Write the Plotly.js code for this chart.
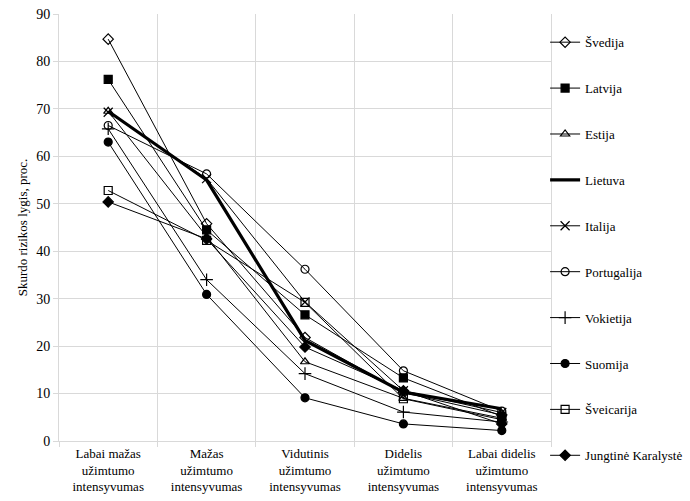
<!DOCTYPE html>
<html><head><meta charset="utf-8">
<script src="https://cdn.plot.ly/plotly-3.0.1.min.js"></script>
<style>body{margin:0;padding:0;background:#fff}#chart{width:690px;height:501px}</style>
</head><body><div id="chart"></div>
<script>
const categories = ["Labai mažas<br>užimtumo<br>intensyvumas","Mažas<br>užimtumo<br>intensyvumas","Vidutinis<br>užimtumo<br>intensyvumas","Didelis<br>užimtumo<br>intensyvumas","Labai didelis<br>užimtumo<br>intensyvumas"];
const yTitle = "Skurdo rizikos lygis, proc.";
const svedija = [84.7, 45.8, 21.8, 10.2, 5.5];
const latvija = [76.2, 44.5, 26.6, 13.3, 5.2];
const estija = [69.5, 43.0, 16.7, 9.0, 4.8];
const lietuva = [69.5, 55.0, 21.2, 10.3, 6.8];
const italija = [69.3, 55.3, 29.3, 10.6, 6.0];
const portugalija = [66.5, 56.3, 36.2, 14.8, 6.3];
const vokietija = [65.8, 34.0, 14.2, 6.1, 4.0];
const suomija = [63.0, 30.9, 9.1, 3.6, 2.2];
const sveicarija = [52.8, 42.3, 29.2, 8.9, 4.5];
const jungtine = [50.4, 42.6, 19.8, 10.6, 3.6];

const series = [
  ["Švedija", svedija, "diamond-open"],
  ["Latvija", latvija, "square"],
  ["Estija", estija, "triangle-up-open"],
  ["Lietuva", lietuva, null],
  ["Italija", italija, "x-thin-open"],
  ["Portugalija", portugalija, "circle-open"],
  ["Vokietija", vokietija, "cross-thin-open"],
  ["Suomija", suomija, "circle"],
  ["Šveicarija", sveicarija, "square-open"],
  ["Jungtinė Karalystė", jungtine, "diamond"]
];
const traces = series.map((s, i) => {
  const t = {
    type: "scatter", x: categories, y: s[1], name: s[0], legendgroup: "g" + i,
    line: {color: "#000", width: s[2] ? 1 : 3.2},
    cliponaxis: false
  };
  if (s[2]) {
    t.mode = "lines+markers";
    t.marker = {symbol: s[2], size: s[2].indexOf("thin") >= 0 ? 9 : 8, color: "#000", line: {color: "#000", width: 1.2}};
  } else {
    t.mode = "lines";
  }
  return t;
});
const FF = "Liberation Serif, serif";
Plotly.newPlot("chart", traces, {
  width: 690, height: 501,
  margin: {l: 59, r: 139, t: 14, b: 60, autoexpand: false},
  paper_bgcolor: "#fff", plot_bgcolor: "#fff",
  font: {family: FF, color: "#000", size: 13},
  showlegend: true,
  legend: {x: 0.988, xanchor: "left", y: 0.969, yanchor: "top", font: {size: 13},
           tracegroupgap: 26, itemwidth: 30, bgcolor: "rgba(0,0,0,0)", traceorder: "grouped", maxheight: 480},
  xaxis: {type: "category", tickson: "boundaries", showgrid: true, gridcolor: "#d9d9d9", gridwidth: 1,
          showline: true, linecolor: "#d9d9d9", ticks: "outside", ticklen: 5, tickcolor: "#d9d9d9",
          tickfont: {size: 13}, range: [-0.5, 4.5], fixedrange: true},
  yaxis: {range: [0, 90], dtick: 10, showgrid: true, gridcolor: "#d9d9d9", gridwidth: 1,
          showline: true, linecolor: "#d9d9d9", mirror: true, ticks: "outside", ticklen: 5, tickcolor: "#d9d9d9",
          zeroline: false, tickfont: {size: 14},
          title: {text: yTitle, font: {size: 13}, standoff: 5}}
}, {staticPlot: true});
</script></body></html>
